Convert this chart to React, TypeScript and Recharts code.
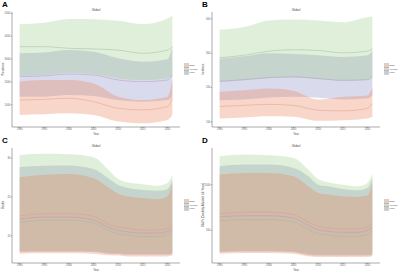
import React from 'react';
import { Area, ComposedChart, Line, XAxis, YAxis } from 'recharts';

// years (first/last points sit at 1990 and 2021)
const yearsAB = [1990, 1995, 2000, 2005, 2010, 2015, 2020, 2021];
const yearsCD = [1990, 1995, 2000, 2005, 2008, 2010, 2012, 2015, 2018, 2020, 2021];
const xTicks = [1990, 1995, 2000, 2005, 2010, 2015, 2020];

// A: Prevalence
const aBothLo = [550, 580, 620, 550, 260, 180, 330, 550];
const aBothMid = [1200, 1230, 1280, 1130, 840, 770, 910, 1280];
const aBothHi = [2010, 2080, 2080, 1930, 1350, 1200, 1350, 2080];
const aFemLo = [2260, 2300, 2400, 2340, 2150, 2080, 2150, 2300];
const aFemMid = [3540, 3540, 3470, 3440, 3390, 3250, 3390, 3540];
const aFemHi = [4520, 4590, 4750, 4740, 4680, 4530, 4780, 4900];
const aMaleLo = [1350, 1350, 1420, 1380, 1200, 1130, 1200, 1350];
const aMaleMid = [2230, 2260, 2340, 2300, 2080, 2010, 2080, 2300];
const aMaleHi = [3250, 3280, 3390, 3320, 3030, 2880, 2990, 3540];
const aTicks = [1000, 2000, 3000, 4000, 5000];

// B: Incidence
const bBothLo = [110, 113, 116, 115, 103, 105, 110, 115];
const bBothMid = [145, 148, 151, 148, 134, 132, 139, 153];
const bBothHi = [187, 192, 197, 190, 165, 173, 177, 200];
const bFemLo = [216, 221, 227, 229, 225, 219, 221, 229];
const bFemMid = [287, 294, 306, 310, 308, 301, 306, 313];
const bFemHi = [368, 376, 395, 398, 395, 390, 405, 407];
const bMaleLo = [163, 165, 171, 173, 170, 165, 168, 177];
const bMaleMid = [218, 223, 229, 231, 226, 221, 223, 233];
const bMaleHi = [284, 291, 300, 298, 294, 289, 294, 308];
const bTicks = [100, 200, 300, 400];

// C: Deaths
const cBothLo = [5.4, 5.5, 5.5, 5.4, 5.0, 4.9, 4.7, 4.7, 4.7, 4.7, 4.9];
const cBothMid = [15.1, 15.7, 15.7, 15.0, 13.1, 12.2, 11.9, 11.5, 11.5, 12.0, 12.8];
const cBothHi = [25.1, 25.7, 25.9, 24.8, 22.5, 20.8, 20.1, 19.7, 19.4, 20.1, 23.6];
const cFemLo = [6.0, 6.1, 6.1, 6.0, 5.6, 5.5, 5.3, 5.3, 5.3, 5.3, 5.5];
const cFemMid = [13.4, 14.0, 14.0, 13.3, 11.4, 10.5, 10.2, 9.8, 9.8, 10.3, 11.1];
const cFemHi = [30.8, 31.1, 31.0, 30.2, 27.0, 24.6, 23.7, 23.3, 22.9, 23.6, 25.7];
const cMaleLo = [5.8, 5.9, 5.9, 5.8, 5.4, 5.3, 5.1, 5.1, 5.1, 5.1, 5.3];
const cMaleMid = [14.3, 14.8, 14.8, 14.1, 12.2, 11.4, 11.0, 10.7, 10.7, 11.1, 12.0];
const cMaleHi = [27.7, 28.0, 28.1, 27.2, 24.8, 23.1, 22.3, 21.8, 21.6, 22.0, 24.4];
const cTicks = [10, 20, 30];

// D: DALYs
const dBothLo = [244, 252, 252, 244, 215, 208, 208, 208, 208, 208, 215];
const dBothMid = [683, 697, 697, 672, 588, 544, 526, 515, 515, 537, 573];
const dBothHi = [1110, 1128, 1128, 1091, 982, 909, 891, 872, 865, 880, 1018];
const dFemLo = [269, 277, 277, 269, 240, 233, 233, 233, 233, 233, 240];
const dFemMid = [603, 617, 617, 592, 508, 464, 446, 435, 435, 457, 493];
const dFemHi = [1310, 1329, 1321, 1292, 1164, 1062, 1026, 1000, 982, 1018, 1121];
const dMaleLo = [259, 267, 267, 259, 230, 223, 223, 223, 223, 223, 230];
const dMaleMid = [646, 660, 660, 635, 551, 507, 489, 478, 478, 500, 536];
const dMaleHi = [1201, 1219, 1219, 1183, 1091, 1000, 982, 953, 938, 964, 1073];
const dTicks = [500, 1000];

const groups = ['Both', 'Female', 'Male'];

const FILL = { both: '#e8845a', fem: '#8fc47a', male: '#8c8cc8' };
const LINE = { both: '#e39a88', fem: '#a3b9a0', male: '#b39ac0' };
const AXIS = '#555';
const FONT = 'Arial, "Liberation Sans", sans-serif';

function rows(years: number[], s: number[][]) {
  const [bl, bm, bh, fl, fm, fh, ml, mm, mh] = s;
  return years.map((year, i) => ({
    year,
    both: [bl[i], bh[i]],
    bothMid: bm[i],
    fem: [fl[i], fh[i]],
    femMid: fm[i],
    male: [ml[i], mh[i]],
    maleMid: mm[i],
  }));
}

interface PanelProps {
  letter: string;
  yLabel: string;
  data: any[];
  domain: [number, number];
  ticks: number[];
  left: number;
  top: number;
}

function Panel({ letter, yLabel, data, domain, ticks, left, top }: PanelProps) {
  const tick = { fill: '#666', fontSize: 2.6, fontFamily: FONT };
  return (
    <div style={{ position: 'absolute', left, top, width: 200, height: 136 }}>
      <ComposedChart
        width={200}
        height={136}
        data={data}
        margin={{ top: 12, right: 20, bottom: 0, left: 0 }}
      >
        <XAxis
          dataKey="year"
          type="number"
          domain={[1988.45, 2022.55]}
          ticks={xTicks}
          allowDataOverflow
          tick={tick}
          tickSize={1.2}
          tickMargin={0.3}
          height={9}
          stroke={AXIS}
          strokeWidth={0.5}
        />
        <YAxis
          type="number"
          domain={domain}
          ticks={ticks}
          allowDataOverflow
          tick={tick}
          tickSize={1.2}
          tickMargin={0.5}
          width={12}
          stroke={AXIS}
          strokeWidth={0.5}
        />
        <Area type="monotone" dataKey="male" stroke="none" fill={FILL.male} fillOpacity={0.32} isAnimationActive={false} />
        <Area type="monotone" dataKey="fem" stroke="none" fill={FILL.fem} fillOpacity={0.28} isAnimationActive={false} />
        <Area type="monotone" dataKey="both" stroke="none" fill={FILL.both} fillOpacity={0.32} isAnimationActive={false} />
        <Line type="monotone" dataKey="maleMid" stroke={LINE.male} strokeWidth={0.5} dot={false} isAnimationActive={false} />
        <Line type="monotone" dataKey="femMid" stroke={LINE.fem} strokeWidth={0.5} dot={false} isAnimationActive={false} />
        <Line type="monotone" dataKey="bothMid" stroke={LINE.both} strokeWidth={0.5} dot={false} isAnimationActive={false} />
      </ComposedChart>
      <div style={{ position: 'absolute', left: 2, top: 0, fontSize: 8, lineHeight: '9px', fontWeight: 'bold', fontFamily: FONT }}>
        {letter}
      </div>
      <div style={{ position: 'absolute', left: 12, width: 168, top: 8.5, lineHeight: '3px', textAlign: 'center', fontSize: 3, color: '#444', fontFamily: FONT }}>
        Global
      </div>
      <div style={{ position: 'absolute', left: 12, width: 168, top: 132.8, lineHeight: '3px', textAlign: 'center', fontSize: 2.8, color: '#444', fontFamily: FONT }}>
        Year
      </div>
      <div style={{ position: 'absolute', left: 3, top: 69, width: 0, height: 0, fontFamily: FONT }}>
        <div
          style={{
            position: 'absolute',
            transform: 'translate(-50%, -50%) rotate(-90deg)',
            whiteSpace: 'nowrap',
            fontSize: 2.6,
            lineHeight: '3px',
            color: '#444',
          }}
        >
          {yLabel}
        </div>
      </div>
      <div style={{ position: 'absolute', left: 184, top: 64, fontFamily: FONT, fontSize: 2.4, color: '#444' }}>
        {groups.map((g, i) => {
          const key = i === 0 ? 'both' : i === 1 ? 'fem' : 'male';
          return (
            <div key={g} style={{ display: 'flex', alignItems: 'center', height: 3.4 }}>
              <div
                style={{
                  width: 2.6,
                  height: 2.6,
                  background: FILL[key],
                  opacity: 0.45,
                  border: '0.3px solid #999',
                  marginRight: 1,
                }}
              />
              <span>{g}</span>
            </div>
          );
        })}
      </div>
    </div>
  );
}

export default function App() {
  return (
    <div style={{ position: 'absolute', left: 0, top: 0, width: 400, height: 272, background: '#fff' }}>
      <Panel
        letter="A"
        yLabel="Prevalence"
        data={rows(yearsAB, [aBothLo, aBothMid, aBothHi, aFemLo, aFemMid, aFemHi, aMaleLo, aMaleMid, aMaleHi])}
        domain={[20, 5060]}
        ticks={aTicks}
        left={0}
        top={0}
      />
      <Panel
        letter="B"
        yLabel="Incidence"
        data={rows(yearsAB, [bBothLo, bBothMid, bBothHi, bFemLo, bFemMid, bFemHi, bMaleLo, bMaleMid, bMaleHi])}
        domain={[85, 420]}
        ticks={bTicks}
        left={200}
        top={0}
      />
      <Panel
        letter="C"
        yLabel="Deaths"
        data={rows(yearsCD, [cBothLo, cBothMid, cBothHi, cFemLo, cFemMid, cFemHi, cMaleLo, cMaleMid, cMaleHi])}
        domain={[3, 32.6]}
        ticks={cTicks}
        left={0}
        top={136}
      />
      <Panel
        letter="D"
        yLabel="DALYs (Disability-Adjusted Life Years)"
        data={rows(yearsCD, [dBothLo, dBothMid, dBothHi, dFemLo, dFemMid, dFemHi, dMaleLo, dMaleMid, dMaleHi])}
        domain={[142, 1401]}
        ticks={dTicks}
        left={200}
        top={136}
      />
    </div>
  );
}
